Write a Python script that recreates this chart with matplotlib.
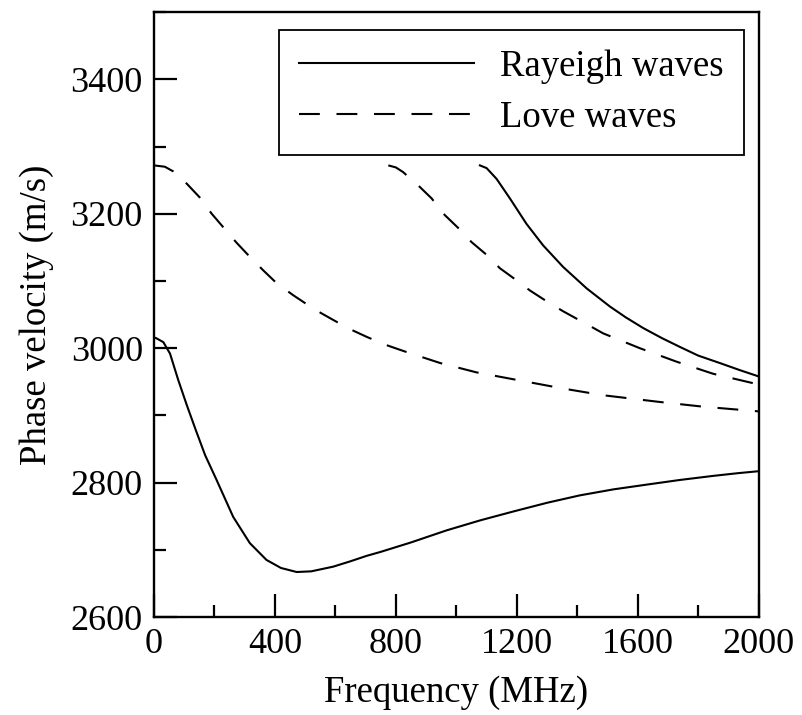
import matplotlib.pyplot as plt
from matplotlib.ticker import MultipleLocator

plt.rcParams['font.family'] = ['Liberation Serif', 'DejaVu Serif']

# Rayleigh modo fundamental
f_r1 = [0, 7, 31, 53, 80, 108, 136, 169, 207, 262, 317, 372, 420, 472, 520, 593, 650, 703,
        750, 850, 968, 1080, 1188, 1300, 1408, 1520, 1629, 1740, 1849, 1930, 2000]
v_r1 = [3016, 3015, 3009, 2992, 2953, 2916, 2881, 2841, 2804, 2749, 2710, 2685, 2673, 2667, 2668,
        2675, 2683, 2691, 2697, 2711, 2729, 2744, 2757, 2770, 2781, 2790, 2797, 2804, 2810, 2814, 2817]

# Rayleigh segundo modo
f_r2 = [1078, 1100, 1133, 1177, 1232, 1287, 1353, 1431, 1508, 1560, 1618, 1680, 1739, 1800,
        1871, 1940, 2000]
v_r2 = [3272, 3268, 3252, 3223, 3185, 3153, 3121, 3089, 3062, 3046, 3030, 3015, 3002, 2989,
        2978, 2967, 2958]

# Love modo fundamental
f_l1 = [0, 36, 64, 108, 152, 191, 231, 273, 317, 361, 405, 460, 530, 593, 650, 703, 760, 824,
        946, 1067, 1210, 1353, 1486, 1673, 1816, 2000]
v_l1 = [3272, 3270, 3263, 3245, 3224, 3200, 3179, 3157, 3136, 3116, 3097, 3079, 3058, 3042, 3028,
        3017, 3006, 2996, 2978, 2964, 2952, 2940, 2930, 2920, 2913, 2906]

# Love segundo modo
f_l2 = [775, 800, 824, 879, 918, 962, 1006, 1050, 1100, 1144, 1193, 1243, 1298, 1353, 1430,
        1486, 1607, 1728, 1849, 2000]
v_l2 = [3272, 3269, 3262, 3240, 3223, 3198, 3179, 3158, 3139, 3119, 3103, 3086, 3070, 3055, 3036,
        3022, 3000, 2980, 2962, 2946]

fig = plt.figure(figsize=(8.02, 7.15), dpi=100)
ax = fig.add_axes([0.192, 0.137, 0.754, 0.846])

lw = 1.5
ax.plot(f_r1, v_r1, color='black', lw=lw, label='Rayeigh waves')
ax.plot(f_r2, v_r2, color='black', lw=lw)
ax.plot(f_l1, v_l1, color='black', lw=lw, dashes=(10, 8), label='Love waves')
ax.plot(f_l2, v_l2, color='black', lw=lw, dashes=(10, 8))

ax.set_xlim(0, 2000)
ax.set_ylim(2600, 3500)
ax.xaxis.set_major_locator(MultipleLocator(400))
ax.xaxis.set_minor_locator(MultipleLocator(200))
ax.yaxis.set_major_locator(MultipleLocator(200))
ax.yaxis.set_minor_locator(MultipleLocator(100))
ax.tick_params(which='both', direction='in', width=1.6, labelsize=26)
ax.tick_params(which='major', length=16.5)
ax.tick_params(which='minor', length=8.6)
ax.tick_params(axis='x', which='major', pad=8)
ax.tick_params(axis='y', which='major', pad=8)
for s in ax.spines.values():
    s.set_linewidth(1.7)

ax.set_xlabel('Frequency (MHz)', fontsize=26.5, labelpad=10)
ax.set_ylabel('Phase velocity (m/s)', fontsize=26.5, labelpad=12)

leg = ax.legend(loc='upper right', bbox_to_anchor=(0.975, 0.970), borderaxespad=0,
                fontsize=26.5, handlelength=4.75, handletextpad=0.73, labelspacing=0.45,
                fancybox=False, framealpha=1, edgecolor='black', borderpad=0.53)
leg.get_frame().set_linewidth(1.3)

plt.savefig('out.png', dpi=100)
